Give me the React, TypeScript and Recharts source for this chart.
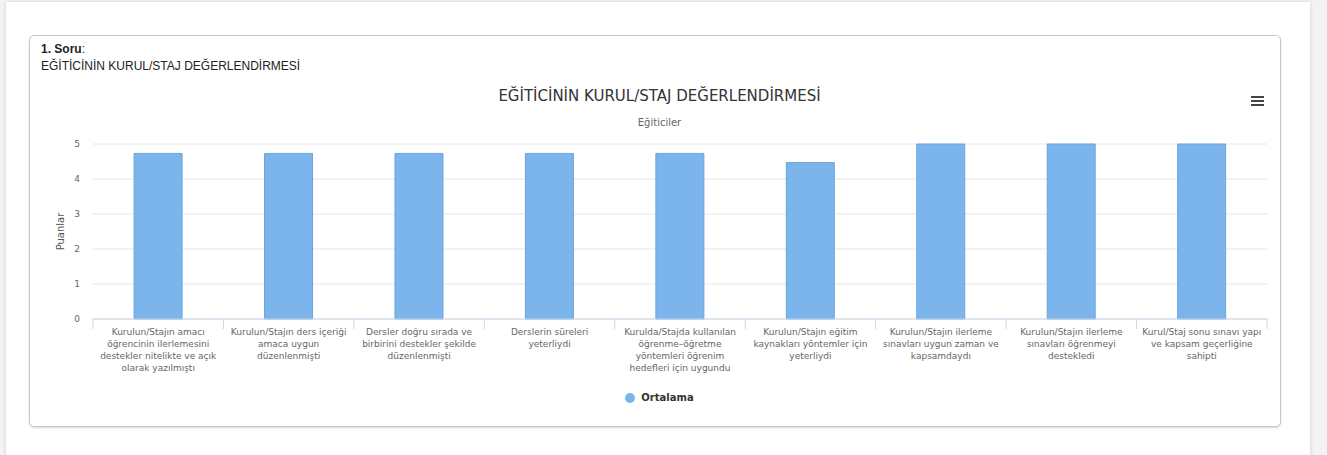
import React from 'react'
import { BarChart, Bar, XAxis, YAxis, CartesianGrid } from 'recharts'

// categories (with their visible line breaks) and average scores
const categories = [
  'Kurulun/Stajın amacı\nöğrencinin ilerlemesini\ndestekler nitelikte ve açık\nolarak yazılmıştı',
  'Kurulun/Stajın ders içeriği\namaca uygun\ndüzenlenmişti',
  'Dersler doğru sırada ve\nbirbirini destekler şekilde\ndüzenlenmişti',
  'Derslerin süreleri\nyeterliydi',
  'Kurulda/Stajda kullanılan\nöğrenme–öğretme\nyöntemleri öğrenim\nhedefleri için uygundu',
  'Kurulun/Stajın eğitim\nkaynakları yöntemler için\nyeterliydi',
  'Kurulun/Stajın ilerleme\nsınavları uygun zaman ve\nkapsamdaydı',
  'Kurulun/Stajın ilerleme\nsınavları öğrenmeyi\ndestekledi',
  'Kurul/Staj sonu sınavı yapı\nve kapsam geçerliğine\nsahipti',
]
const ortalama = [4.73, 4.73, 4.73, 4.73, 4.73, 4.47, 5, 5, 5]
const yTicks = [0, 1, 2, 3, 4, 5]

const data = categories.map((c, i) => ({ name: c, Ortalama: ortalama[i] }))

const FONT = '"DejaVu Sans", Verdana, sans-serif'
const CHART_W = 1249
const CHART_H = 340
const M = { top: 63, right: 12, left: 0, bottom: 0 }
const Y_W = 63
const X_H = 102
const STEP = (CHART_W - M.left - M.right - Y_W) / categories.length

const CategoryTick = ({ x, y, payload, index }: any) => {
  const lines = String(payload.value).split('\n')
  return (
    <g>
      <line x1={x - STEP / 2} y1={y - 8} x2={x - STEP / 2} y2={y + 2} stroke="#ccd6eb" />
      {index === categories.length - 1 && (
        <line x1={x + STEP / 2} y1={y - 8} x2={x + STEP / 2} y2={y + 2} stroke="#ccd6eb" />
      )}
      <text x={x} y={y + 8} textAnchor="middle" fill="#666666" fontSize={9} fontFamily={FONT}>
        {lines.map((l, i) => (
          <tspan key={i} x={x} dy={i === 0 ? 0 : 12}>{l}</tspan>
        ))}
      </text>
    </g>
  )
}

export default function App() {
  return (
    <div style={{ position: 'fixed', left: 0, top: 0, width: 1327, height: 455, background: '#f3f3f3', overflow: 'hidden' }}>
      <div style={{
        position: 'absolute', left: 6, top: 2, width: 1304, height: 470, background: '#fff',
        boxShadow: '0 0 4px rgba(0,0,0,0.15)',
      }} />
      <div style={{
        position: 'absolute', left: 29, top: 35, width: 1250, height: 390, background: '#fff',
        border: '1px solid #c8c8c8', borderRadius: 5, boxShadow: '0 1px 2px rgba(0,0,0,0.15)',
      }}>
        <div style={{ position: 'absolute', left: 11, top: 5, fontFamily: 'Arial, "Liberation Sans", sans-serif', fontSize: 12, color: '#222', lineHeight: '17px' }}>
          <div><b>1. Soru</b>:</div>
          <div>EĞİTİCİNİN KURUL/STAJ DEĞERLENDİRMESİ</div>
        </div>
        <div style={{ position: 'absolute', left: 0, width: 1259, top: 51, textAlign: 'center', fontFamily: FONT, fontSize: 15, color: '#333333' }}>
          EĞİTİCİNİN KURUL/STAJ DEĞERLENDİRMESİ
        </div>
        <div style={{ position: 'absolute', left: 0, width: 1259, top: 81, textAlign: 'center', fontFamily: FONT, fontSize: 10, color: '#666666' }}>
          Eğiticiler
        </div>
        <svg style={{ position: 'absolute', left: 1220, top: 58 }} width={16} height={14}>
          <rect x={1} y={2} width={13} height={2} fill="#444" />
          <rect x={1} y={6} width={13} height={2} fill="#444" />
          <rect x={1} y={10} width={13} height={2} fill="#444" />
        </svg>
        <div style={{ position: 'absolute', left: 0, top: 45 }}>
          <BarChart width={CHART_W} height={CHART_H} data={data} margin={M} barCategoryGap="31.5%">
            <CartesianGrid vertical={false} stroke="#e6e6e6" />
            <XAxis
              dataKey="name"
              interval={0}
              tickLine={false}
              axisLine={{ stroke: '#ccd6eb' }}
              tick={<CategoryTick />}
              height={X_H}
            />
            <YAxis
              width={Y_W}
              domain={[0, 5]}
              ticks={yTicks}
              interval={0}
              axisLine={false}
              tickLine={false}
              tick={{ fill: '#666666', fontSize: 9, fontFamily: FONT }}
              tickMargin={7}
              label={{ value: 'Puanlar', angle: -90, position: 'insideLeft', offset: 30, style: { fill: '#555555', fontSize: 10, fontFamily: FONT, textAnchor: 'middle' } }}
            />
            <Bar dataKey="Ortalama" fill="#7cb5ec" stroke="#6aa5df" strokeWidth={1} isAnimationActive={false} />
          </BarChart>
        </div>
        <div style={{ position: 'absolute', left: 0, width: 1259, top: 356, display: 'flex', justifyContent: 'center', alignItems: 'center', fontFamily: FONT }}>
          <svg width={10} height={10} style={{ marginRight: 6 }}>
            <circle cx={5} cy={5} r={5} fill="#7cb5ec" />
          </svg>
          <span style={{ fontSize: 10, fontWeight: 'bold', color: '#333333' }}>Ortalama</span>
        </div>
      </div>
    </div>
  )
}
